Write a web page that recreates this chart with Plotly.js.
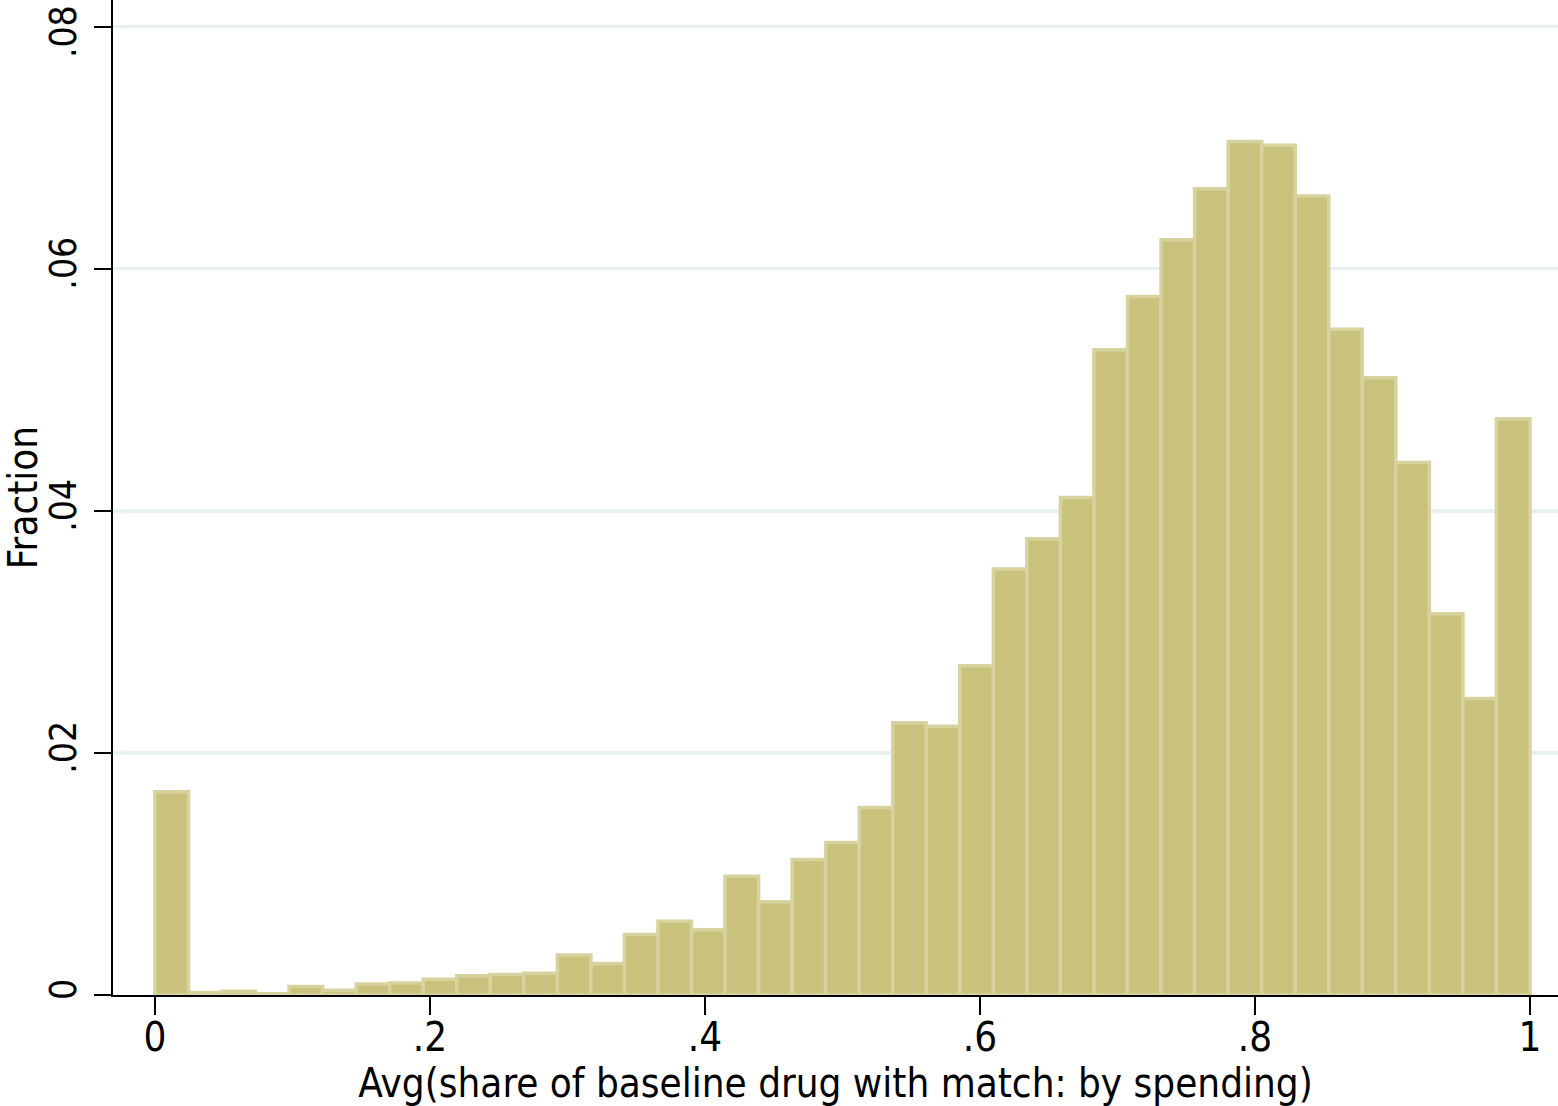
<!DOCTYPE html>
<html>
<head>
<meta charset="utf-8">
<script src="https://cdn.plot.ly/plotly-3.0.1.min.js"></script>
<style>
  html, body { margin: 0; padding: 0; background: #ffffff; }
  #hist { width: 1558px; height: 1106px; }
</style>
</head>
<body>
<div id="hist"></div>
<script type="text/javascript">

    /* * Histogram data - 41 equal bins on [0, 1] * */
    var bin_count = 41;
    var bin_fraction = [
        0.0168, 0.0002, 0.0003, 0.0001, 0.0007, 0.0004, 0.0009, 0.0010, 0.0013, 0.0016,
        0.0017, 0.0018, 0.0033, 0.0026, 0.0050, 0.0061, 0.0054, 0.0098, 0.0077, 0.0112,
        0.0126, 0.0155, 0.0225, 0.0222, 0.0272, 0.0352, 0.0377, 0.0411, 0.0533, 0.0577,
        0.0624, 0.0666, 0.0705, 0.0702, 0.0660, 0.0550, 0.0510, 0.0440, 0.0315, 0.0245,
        0.0476
    ];

    /* * Tick labels * */
    var x_tick_vals = [0, 0.2, 0.4, 0.6, 0.8, 1];
    var x_tick_text = ['0', '.2', '.4', '.6', '.8', '1'];
    var y_tick_vals = [0, 0.02, 0.04, 0.06, 0.08];
    // top label padded so it is not clipped by the page edge
    var y_tick_text = ['0', '.02', '.04', '.06', '.08\u00a0\u00a0'];

    var x_title = 'Avg(share of baseline drug with match: by spending)';
    var y_title = 'Fraction';

    var bin_centers = Array();
    for (var i = 0; i < bin_count; i++) {
        bin_centers.push((i + 0.5) / bin_count);
    }

    var font_family = '"Liberation Sans Narrow", "DejaVu Sans Condensed", "Liberation Sans", sans-serif';

    var data = [{
        x: bin_centers,
        y: bin_fraction,
        type: 'bar',
        width: 1 / bin_count,
        marker: {
            color: '#c9c27c',
            line: { color: '#d8d29f', width: 3.5 }
        },
        hoverinfo: 'x+y'
    }];

    var layout = {
        width: 1558,
        height: 1106,
        margin: { l: 113, r: 0, t: 0, b: 111 },
        paper_bgcolor: '#ffffff',
        plot_bgcolor: '#ffffff',
        bargap: 0,
        showlegend: false,
        font: { family: font_family, color: '#000000', size: 40 },
        xaxis: {
            range: [-0.0305, 1.0204],
            tickvals: x_tick_vals,
            ticktext: x_tick_text,
            ticks: 'outside',
            ticklen: 18,
            tickwidth: 2,
            tickcolor: '#000000',
            ticklabelstandoff: -12,
            ticklabeloverflow: 'allow',
            showline: true,
            linecolor: '#000000',
            linewidth: 2,
            showgrid: false,
            zeroline: false,
            tickfont: { family: font_family, size: 40, color: '#000000' },
            title: { text: x_title, font: { family: font_family, size: 40, color: '#000000' }, standoff: 2 }
        },
        yaxis: {
            range: [0, 0.0822],
            tickvals: y_tick_vals,
            ticktext: y_tick_text,
            tickangle: -90,
            ticks: 'outside',
            ticklen: 17,
            tickwidth: 2,
            tickcolor: '#000000',
            ticklabelstandoff: 3,
            ticklabeloverflow: 'allow',
            showline: true,
            linecolor: '#000000',
            linewidth: 2,
            showgrid: true,
            gridcolor: '#e8f0f0',
            gridwidth: 3.5,
            zeroline: false,
            tickfont: { family: font_family, size: 37, color: '#000000' },
            title: { text: y_title, font: { family: font_family, size: 40, color: '#000000' }, standoff: 6 }
        }
    };

    Plotly.newPlot(document.getElementById('hist'), data, layout, { displayModeBar: false, staticPlot: true });

</script>
</body>
</html>
